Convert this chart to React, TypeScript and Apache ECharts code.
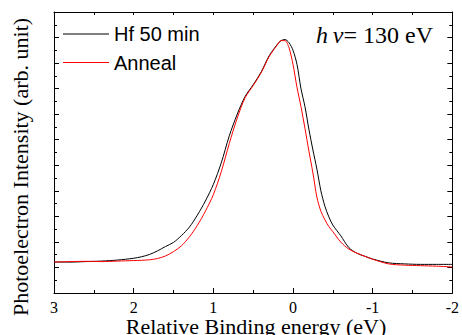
import { useEffect, useRef } from "react";
import * as echarts from "echarts";

// Relative binding energy (eV)
const energies = [
  3.0, 2.8, 2.6, 2.4, 2.2, 2.0, 1.9, 1.8, 1.7, 1.6, 1.5, 1.4, 1.3, 1.2, 1.1, 1.0,
  0.9, 0.8, 0.7, 0.6, 0.5, 0.4, 0.3, 0.2, 0.15, 0.1, 0.05, 0.0, -0.05, -0.1, -0.15,
  -0.2, -0.25, -0.3, -0.35, -0.4, -0.45, -0.5, -0.6, -0.7, -0.8, -0.9, -1.0, -1.2, -1.4,
  -1.6, -1.8, -2.0,
];
// Hf 50 min intensity (arb.)
const hf50 = [
  1.21, 1.21, 1.23, 1.25, 1.29, 1.36, 1.42, 1.51, 1.65, 1.82, 1.98, 2.25, 2.58, 3.05, 3.6, 4.25,
  5.1, 6.15, 7.0, 7.7, 8.15, 8.65, 9.28, 9.72, 9.88, 9.92, 9.8, 9.5, 8.95, 8.0, 7.3,
  6.4, 5.6, 4.85, 4.0, 3.4, 2.98, 2.66, 2.24, 1.78, 1.56, 1.44, 1.33, 1.18, 1.14,
  1.12, 1.12, 1.12,
];
// Anneal intensity (arb.)
const anneal = [
  1.21, 1.23, 1.24, 1.23, 1.25, 1.27, 1.28, 1.3, 1.35, 1.45, 1.62, 1.85, 2.2, 2.65, 3.2, 3.85,
  4.75, 5.85, 6.85, 7.65, 8.12, 8.62, 9.25, 9.7, 9.88, 9.88, 9.6, 8.95, 8.05, 7.3, 6.45,
  5.55, 4.7, 3.75, 3.2, 2.87, 2.6, 2.4, 1.99, 1.72, 1.56, 1.44, 1.32, 1.14, 1.09,
  1.07, 1.05, 1.02,
];
const seriesNames = ["Hf 50 min", "Anneal"];
const xTitle = "Relative Binding energy (eV)";
const yTitle = "Photoelectron Intensity (arb. unit)";
const annotation = "{i|h\u2009\u03bd}{n|= 130 eV}";

const SERIF = '"Liberation Serif", "Times New Roman", serif';
const SANS = '"Liberation Sans", Arial, sans-serif';

export default function App() {
  const ref = useRef<HTMLDivElement>(null);
  useEffect(() => {
    if (!ref.current) return;
    const chart = echarts.init(ref.current, null, { renderer: "svg" });
    const axisLine = { show: true, onZero: false, lineStyle: { color: "#000", width: 1 } };
    chart.setOption({
      animation: false,
      backgroundColor: "#fff",
      grid: { left: 54, right: 5, top: 12, bottom: 42 },
      title: {
        text: annotation,
        right: 29,
        top: 23,
        padding: 0,
        textStyle: {
          fontWeight: "normal",
          rich: {
            i: { fontFamily: SERIF, fontStyle: "italic", fontWeight: "normal", fontSize: 24, color: "#000" },
            n: { fontFamily: SERIF, fontWeight: "normal", fontSize: 24, color: "#000" },
          },
        },
      },
      legend: {
        orient: "vertical",
        left: 63,
        top: 24,
        padding: 0,
        itemWidth: 46,
        itemHeight: 1,
        itemGap: 8.5,
        icon: "rect",
        data: seriesNames,
        textStyle: { fontFamily: SANS, fontSize: 20, color: "#000", lineHeight: 20 },
      },
      xAxis: [
        {
          type: "value",
          min: -2,
          max: 3,
          interval: 1,
          inverse: true,
          axisLine,
          axisTick: { show: true, inside: true, length: 5, lineStyle: { color: "#000" } },
          minorTick: { show: true, splitNumber: 2, length: 3, lineStyle: { color: "#000" } },
          axisLabel: { fontFamily: SERIF, fontSize: 16, color: "#000", margin: 6 },
          splitLine: { show: false },
        },
        {
          type: "value",
          position: "top",
          min: -2,
          max: 3,
          interval: 0.5,
          inverse: true,
          axisLine,
          axisTick: { show: true, inside: true, length: 3, lineStyle: { color: "#000" } },
          axisLabel: { show: false },
          splitLine: { show: false },
        },
      ],
      yAxis: [
        {
          type: "value",
          min: 0,
          max: 11,
          interval: 1,
          axisLine,
          axisTick: { show: true, inside: true, length: 5, lineStyle: { color: "#000" } },
          minorTick: { show: true, splitNumber: 2, length: 3, lineStyle: { color: "#000" } },
          axisLabel: { show: false },
          splitLine: { show: false },
        },
        {
          type: "value",
          position: "right",
          min: 0,
          max: 11,
          interval: 1,
          axisLine,
          axisTick: { show: true, inside: true, length: 5, lineStyle: { color: "#000" } },
          minorTick: { show: true, splitNumber: 2, length: 3, lineStyle: { color: "#000" } },
          axisLabel: { show: false },
          splitLine: { show: false },
        },
      ],
      graphic: [
        {
          type: "text",
          x: 20,
          y: 167,
          rotation: Math.PI / 2,
          style: {
            text: yTitle,
            font: `22px ${SERIF}`,
            fill: "#000",
            textAlign: "center",
            textVerticalAlign: "middle",
            align: "center",
            verticalAlign: "middle",
          },
        },
        {
          type: "text",
          x: 256,
          y: 326,
          style: {
            text: xTitle,
            font: `22px ${SERIF}`,
            fill: "#000",
            textAlign: "center",
            textVerticalAlign: "middle",
            align: "center",
            verticalAlign: "middle",
          },
        },
      ],
      series: [
        {
          name: seriesNames[0],
          type: "line",
          data: energies.map((e, i) => [e, hf50[i]]),
          showSymbol: false,
          symbol: "none",
          smooth: 0.3,
          color: "#000",
          lineStyle: { color: "#000", width: 1 },
        },
        {
          name: seriesNames[1],
          type: "line",
          data: energies.map((e, i) => [e, anneal[i]]),
          showSymbol: false,
          symbol: "none",
          smooth: 0.3,
          color: "#ff0000",
          lineStyle: { color: "#ff0000", width: 1 },
        },
      ],
    });
    return () => chart.dispose();
  }, []);
  return (
    <div
      ref={ref}
      style={{ position: "absolute", left: 0, top: 0, width: 462, height: 335 }}
    />
  );
}
